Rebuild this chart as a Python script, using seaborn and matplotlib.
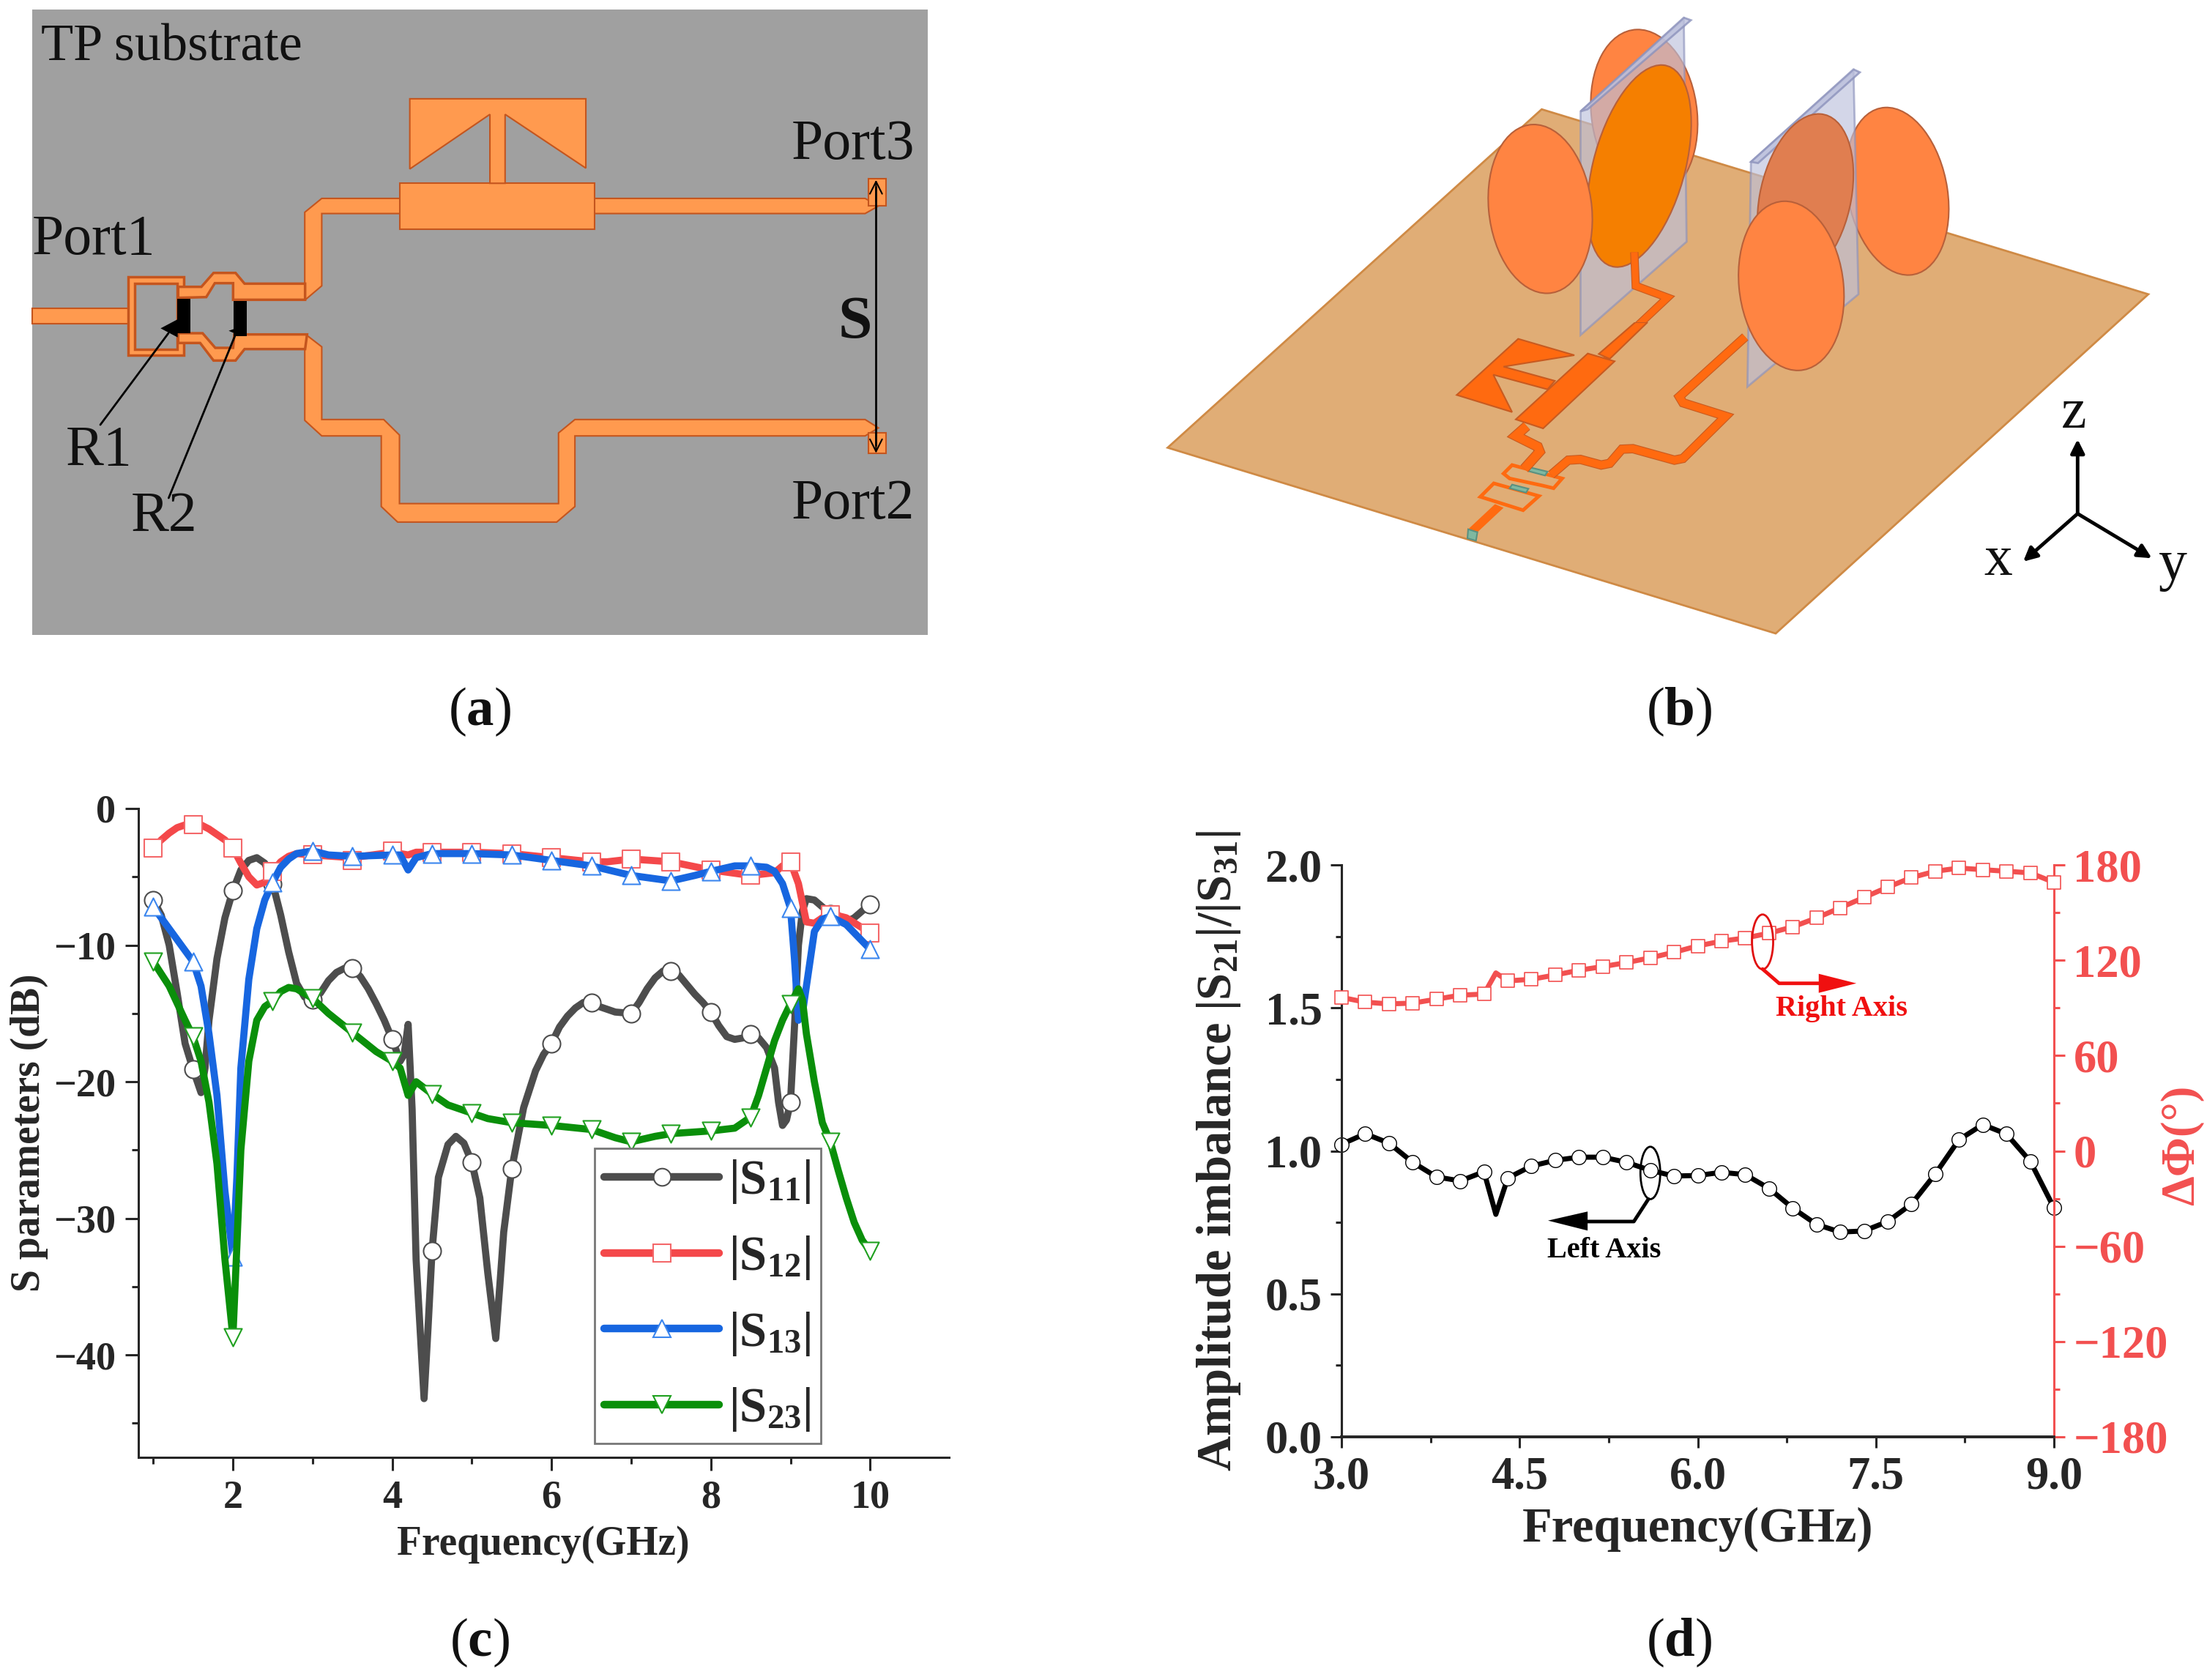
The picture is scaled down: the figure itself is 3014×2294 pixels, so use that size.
import matplotlib
matplotlib.use("Agg")
import matplotlib.pyplot as plt
import seaborn as sns
from matplotlib.lines import Line2D
from matplotlib.patches import Ellipse, Polygon, Rectangle
from matplotlib.ticker import FixedLocator

W, H = 3014, 2294

# panel (c) curves
marker_f = [1, 1.5, 2, 2.5, 3, 3.5, 4, 4.5, 5, 5.5, 6, 6.5, 7, 7.5, 8, 8.5, 9, 9.5, 10]
s11_marks = [-6.7, -19.1, -6.0, -5.5, -14.0, -11.7, -16.9, -32.4, -25.9, -26.4, -17.2, -14.2, -15.0, -11.9, -14.9, -16.5, -21.5, -7.7, -7.0]
s12_marks = [-2.9, -1.2, -2.9, -4.6, -3.4, -3.8, -3.1, -3.2, -3.2, -3.3, -3.6, -3.9, -3.7, -3.9, -4.5, -4.9, -3.9, -7.8, -9.1]
s13_marks = [-7.2, -11.2, -32.8, -5.4, -3.1, -3.5, -3.4, -3.3, -3.3, -3.4, -3.8, -4.2, -4.9, -5.3, -4.6, -4.2, -7.3, -7.9, -10.3]
s23_marks = [-11.2, -16.7, -38.7, -14.1, -13.9, -16.4, -18.5, -20.9, -22.3, -23.0, -23.2, -23.5, -24.4, -23.8, -23.6, -22.6, -14.3, -24.4, -32.4]

s11_f = [1.0, 1.1, 1.2, 1.3, 1.4, 1.5, 1.6, 1.65, 1.7, 1.8, 1.9, 2.0, 2.1, 2.2, 2.3, 2.4, 2.5, 2.6, 2.7, 2.8, 2.9, 3.0,
         3.1, 3.2, 3.3, 3.4, 3.5, 3.6, 3.7, 3.8, 3.9, 4.0, 4.1, 4.15, 4.2, 4.25, 4.3, 4.4, 4.45, 4.5, 4.58, 4.7, 4.8, 4.9,
         5.0, 5.1, 5.2, 5.3, 5.35, 5.4, 5.5, 5.65, 5.8, 5.9, 6.0, 6.1, 6.2, 6.3, 6.4, 6.5, 6.6, 6.8, 7.0, 7.1, 7.2, 7.3,
         7.4, 7.5, 7.6, 7.7, 7.8, 7.9, 8.0, 8.1, 8.2, 8.3, 8.4, 8.5, 8.6, 8.7, 8.8, 8.85, 8.9, 8.95, 9.0, 9.05, 9.1, 9.15,
         9.2, 9.3, 9.4, 9.5, 9.6, 9.7, 9.8, 9.9, 10.0]
s11_db = [-6.7, -7.8, -10, -13.5, -17.2, -19.1, -20.8, -19, -15.5, -11, -8.0, -6.0, -4.5, -3.8, -3.6, -4.0, -5.5, -7.8, -10.5, -12.8, -13.8, -14.0,
          -13.5, -12.6, -12, -11.7, -11.7, -12.3, -13.2, -14.3, -15.5, -16.9, -18.5, -18, -15.8, -22, -33, -43.2, -38, -32.4, -27, -24.6, -24, -24.5,
          -25.9, -28.5, -34, -38.8, -35, -31, -26.4, -21.9, -19.2, -18, -17.2, -16, -15.2, -14.6, -14.2, -14.2, -14.5, -14.9, -15.0, -14.2, -13.2, -12.4,
          -11.9, -11.9, -12.2, -12.9, -13.6, -14.2, -14.9, -15.9, -16.7, -16.9, -16.8, -16.5, -16.8, -17.5, -19, -21.5, -23.2, -22.8, -21.5, -16, -10, -7.5,
          -6.6, -6.7, -7.2, -7.7, -8.2, -8.3, -8.0, -7.5, -7.0]

s12_f = [1.0, 1.1, 1.2, 1.3, 1.4, 1.5, 1.6, 1.7, 1.8, 1.9, 2.0, 2.1, 2.2, 2.3, 2.4, 2.5, 2.6, 2.7, 2.8, 3.0, 3.5, 4.0, 4.2, 4.3,
         4.5, 5.0, 5.5, 6.0, 6.5, 6.7, 7.0, 7.5, 8.0, 8.5, 8.8, 8.9, 9.0, 9.1, 9.2, 9.3, 9.4, 9.5, 9.7, 10.0]
s12_db = [-2.9, -2.3, -1.8, -1.4, -1.2, -1.1, -1.2, -1.5, -1.9, -2.3, -2.9, -4, -5.0, -5.6, -5.4, -4.6, -3.9, -3.5, -3.3, -3.4, -3.6, -3.2, -3.4, -3.2,
          -3.2, -3.2, -3.3, -3.6, -3.9, -3.9, -3.7, -3.9, -4.5, -4.9, -4.7, -4.2, -3.9, -5.5, -8.3, -8.4, -8.0, -7.7, -8, -9.1]

s13_f = [1.0, 1.2, 1.3, 1.4, 1.5, 1.6, 1.7, 1.8, 1.9, 2.0, 2.05, 2.1, 2.2, 2.3, 2.4, 2.5, 2.6, 2.7, 2.8, 3.0, 3.2, 3.5, 4.0, 4.1, 4.2, 4.3,
         4.5, 5.0, 5.5, 6.0, 6.5, 7.0, 7.5, 7.8, 8.0, 8.3, 8.5, 8.7, 8.8, 8.9, 9.0, 9.05, 9.1, 9.15, 9.2, 9.3, 9.4, 9.5, 9.7, 10.0]
s13_db = [-7.2, -8.8, -9.6, -10.4, -11.2, -13, -16.5, -21, -28, -32.8, -27, -19, -12.5, -8.8, -6.7, -5.4, -4.3, -3.7, -3.3, -3.1, -3.4, -3.5, -3.4, -3.4, -4.5, -3.6,
          -3.3, -3.3, -3.4, -3.8, -4.2, -4.9, -5.3, -4.9, -4.6, -4.2, -4.2, -4.3, -4.6, -5.5, -7.3, -11, -15.5, -15, -13, -9, -8.1, -7.9, -8.5, -10.3]

s23_f = [1.0, 1.2, 1.4, 1.5, 1.6, 1.7, 1.8, 1.9, 2.0, 2.05, 2.1, 2.2, 2.3, 2.4, 2.5, 2.6, 2.7, 2.8, 3.0, 3.2, 3.5, 3.8, 4.0, 4.1, 4.15, 4.2, 4.3,
         4.5, 4.7, 5.0, 5.2, 5.5, 6.0, 6.5, 6.8, 7.0, 7.3, 7.5, 8.0, 8.3, 8.5, 8.6, 8.7, 8.8, 8.9, 9.0, 9.1, 9.15, 9.2, 9.3, 9.4, 9.5, 9.6, 9.7, 9.8, 9.9, 10.0]
s23_db = [-11.2, -13, -15.5, -16.7, -18.5, -21.5, -26, -33, -38.7, -32, -25, -18.5, -15.5, -14.5, -14.1, -13.4, -13.1, -13.2, -13.9, -15, -16.4, -17.8, -18.5, -19, -20, -21, -20,
          -20.9, -21.7, -22.3, -22.7, -23.0, -23.2, -23.5, -24.1, -24.4, -24, -23.8, -23.6, -23.4, -22.6, -21, -19, -17, -15.5, -14.3, -13.2, -14, -16.5, -20, -23, -24.4, -26.5, -28.5, -30.3, -31.6, -32.4]

# panel (d), markers every 0.2 GHz
imb_f = [3.0, 3.2, 3.4, 3.6, 3.8, 4.0, 4.2, 4.4, 4.6, 4.8, 5.0, 5.2, 5.4, 5.6, 5.8, 6.0, 6.2, 6.4, 6.6, 6.8, 7.0, 7.2, 7.4, 7.6, 7.8, 8.0, 8.2, 8.4, 8.6, 8.8, 9.0]
imb_amp = [1.023, 1.06, 1.027, 0.96, 0.909, 0.895, 0.927, 0.905, 0.947, 0.967, 0.978, 0.978, 0.96, 0.932, 0.912, 0.914, 0.925, 0.917, 0.869, 0.80, 0.743, 0.716, 0.72, 0.753, 0.814, 0.919, 1.039, 1.092, 1.059, 0.964, 0.801]
imb_phase = [96.6, 93.6, 92.5, 93, 95.5, 98, 98.7, 107, 108, 110.7, 113.7, 116, 118.5, 121.5, 125, 129, 132, 134, 137, 141, 146.6, 153, 159.5, 166, 172, 176, 178, 177, 176, 175, 169]
# spikes at 4.3 GHz that carry no marker
spike_f = 4.3
spike_amp = 0.778
spike_phase = 112

sns.set_theme(style="ticks")
plt.rcParams["font.family"] = ["Liberation Serif", "DejaVu Serif"]
plt.rcParams["mathtext.fontset"] = "custom"
plt.rcParams["mathtext.rm"] = "Liberation Serif"
plt.rcParams["mathtext.it"] = "Liberation Serif:italic"
plt.rcParams["mathtext.bf"] = "Liberation Serif:bold"

fig = plt.figure(figsize=(W / 100, H / 100), dpi=100, facecolor="white")


def box_axes(x0, y0, x1, y1):
    """axes placed by pixel box, y measured from the top of the picture"""
    return fig.add_axes([x0 / W, 1 - y1 / H, (x1 - x0) / W, (y1 - y0) / H])


def sketch_axes(x0, y0, w, h, xmax=1568, ymax=1568):
    # schematic layer with its own coordinates over the box
    ax = box_axes(x0, y0, x0 + w, y0 + h)
    ax.set_xlim(0, xmax)
    ax.set_ylim(ymax, 0)
    ax.axis("off")
    ax.patch.set_alpha(0)
    return ax


def poly(ax, pts, fc, ec="none", lw=1.5, **kw):
    ax.add_patch(Polygon(pts, closed=True, facecolor=fc, edgecolor=ec, linewidth=lw, **kw))


def rect(ax, x0, y0, x1, y1, fc, ec="none", lw=1.5):
    ax.add_patch(Rectangle((x0, y0), x1 - x0, y1 - y0, facecolor=fc, edgecolor=ec, linewidth=lw))


def arrow(ax, start, end, color="black", lw=2.0, style="-|>", scale=26):
    ax.annotate("", xy=end, xytext=start,
                arrowprops=dict(arrowstyle=style, color=color, lw=lw, mutation_scale=scale,
                                shrinkA=0, shrinkB=0))


def trace(ax, pts, lw=8.0, color="#FF6A10", edge="#C85A20"):
    xs = [p[0] for p in pts]
    ys = [p[1] for p in pts]
    ax.plot(xs, ys, color=edge, lw=lw + 1.6, solid_joinstyle="miter", solid_capstyle="butt")
    ax.plot(xs, ys, color=color, lw=lw, solid_joinstyle="miter", solid_capstyle="butt")


# ---------- panel (a)
GREY = "#A0A0A0"
ORANGE = "#FF9A4F"
EDGE = "#C4551E"
ax_a = sketch_axes(0, 0, 1300, 900)
rect(ax_a, 53, 23, 1528, 1510, GREY)
rect(ax_a, 53, 733, 215, 770, ORANGE, EDGE)
poly(ax_a, [(500, 677), (502, 677), (502, 505), (530, 472), (1425, 472), (1447, 490), (1425, 508), (530, 508), (530, 680), (503, 713), (480, 713), (480, 677)], ORANGE, EDGE)
rect(ax_a, 658, 435, 980, 545, ORANGE, EDGE)
poly(ax_a, [(675, 235), (965, 235), (965, 400), (832, 272), (832, 436), (807, 436), (807, 272), (675, 402)], ORANGE, EDGE)
poly(ax_a, [(480, 795), (503, 795), (530, 825), (530, 998), (632, 998), (658, 1035), (658, 1198), (920, 1198), (920, 1030), (947, 998), (1425, 998), (1447, 1018), (1425, 1037), (947, 1037), (947, 1205), (917, 1242), (655, 1242), (628, 1205), (628, 1037), (530, 1037), (502, 1000), (502, 830), (480, 830)], ORANGE, EDGE)
rect(ax_a, 1430, 425, 1460, 490, ORANGE, EDGE)
rect(ax_a, 1430, 1030, 1460, 1078, ORANGE, EDGE)
ax_a.plot([1443, 1443], [445, 1060], color="black", lw=2)
arrow(ax_a, (1443, 480), (1443, 428), lw=1.5, style="->", scale=30)
arrow(ax_a, (1443, 1030), (1443, 1078), lw=1.5, style="->", scale=30)
ax_a.text(68, 113, "TP substrate", fontsize=52, color="#111111", ha="left", va="center")
for x, y, label in [(53, 572, "Port1"), (1303, 346, "Port3"), (1303, 1201, "Port2"), (108, 1073, "R1"), (215, 1231, "R2")]:
    ax_a.text(x, y, label, fontsize=56, color="#111111", ha="left", va="center")
ax_a.text(1408, 770, "S", fontsize=60, fontweight="bold", color="#111111", ha="center", va="center")

# divider section near the resistors, finer coordinates
ax_a2 = sketch_axes(150, 340, 300, 200, xmax=900, ymax=600)
rect(ax_a2, 75, 113, 302, 435, ORANGE, EDGE, lw=2.5)
rect(ax_a2, 103, 140, 275, 412, GREY, EDGE, lw=2.5)
poly(ax_a2, [(280, 155), (375, 155), (425, 98), (515, 98), (552, 142), (800, 142), (800, 208), (505, 208), (505, 140), (430, 140), (395, 197), (280, 200)], ORANGE, EDGE, lw=2.5)
poly(ax_a2, [(280, 345), (380, 345), (432, 405), (505, 405), (510, 350), (808, 350), (800, 410), (552, 410), (515, 457), (425, 457), (370, 385), (280, 385)], ORANGE, EDGE, lw=2.5)
rect(ax_a2, 275, 205, 330, 345, "black")
rect(ax_a2, 507, 212, 560, 358, "black")
poly(ax_a2, [(208, 325), (278, 288), (278, 362)], "black")
poly(ax_a2, [(487, 335), (525, 322), (525, 352)], "black")
ax_a2.plot([-39, 240], [720, 345], color="black", lw=2, clip_on=False)
ax_a2.plot([241, 515], [1020, 350], color="black", lw=2, clip_on=False)

# ---------- panel (b)
ELL = "#FF8442"
ELL_EDGE = "#B8603A"
TRACE = "#FF6A10"
TRACE_EDGE = "#C85A20"
BOARD = "#E0AD76"
PLATE = "#BCC0DC"
PLATE_EDGE = "#8C92BC"
ax_b = sketch_axes(1500, 0, 1514, 900)
poly(ax_b, [(627, 260), (1485, 700), (958, 1507), (98, 1065)], BOARD, "#CF8A45", lw=2)
ax_b.add_patch(Ellipse((772, 270), 150, 400, angle=-3, facecolor=ELL, edgecolor=ELL_EDGE, linewidth=1.5))
ax_b.add_patch(Ellipse((1130, 455), 142, 400, angle=-5, facecolor=ELL, edgecolor=ELL_EDGE, linewidth=1.5))
poly(ax_b, [(682, 265), (828, 45), (832, 575), (682, 797)], PLATE, PLATE_EDGE, lw=2, alpha=0.65)
poly(ax_b, [(682, 265), (692, 260), (838, 48), (828, 42)], PLATE, PLATE_EDGE, lw=2, alpha=0.8)
poly(ax_b, [(923, 385), (1068, 168), (1075, 700), (918, 920)], PLATE, PLATE_EDGE, lw=2, alpha=0.65)
poly(ax_b, [(923, 385), (933, 388), (1077, 172), (1068, 165)], PLATE, PLATE_EDGE, lw=2, alpha=0.8)
ax_b.add_patch(Ellipse((765, 395), 132, 485, angle=8, facecolor="#F57F00", edgecolor=ELL_EDGE, linewidth=1.5))
ax_b.add_patch(Ellipse((625, 497), 146, 402, angle=-3, facecolor=ELL, edgecolor=ELL_EDGE, linewidth=1.5))
ax_b.add_patch(Ellipse((1000, 470), 130, 400, angle=6, facecolor="#E07E50", edgecolor=ELL_EDGE, linewidth=1.5))
ax_b.add_patch(Ellipse((980, 680), 148, 403, angle=-3, facecolor=ELL, edgecolor=ELL_EDGE, linewidth=1.5))
trace(ax_b, [(715, 850), (805, 708), (760, 680), (758, 600)], lw=6.5)
arrow(ax_b, (1385, 1222), (1385, 1045), lw=3.5, scale=28)
arrow(ax_b, (1385, 1222), (1308, 1336), lw=3.5, scale=28)
arrow(ax_b, (1385, 1222), (1490, 1328), lw=3.5, scale=28)
for x, y, label in [(1380, 985, "z"), (1273, 1335, "x"), (1520, 1345, "y")]:
    ax_b.text(x, y, label, fontsize=56, color="#111111", ha="center", va="center")

# feed network on the board, finer coordinates
ax_b2 = sketch_axes(1950, 440, 500, 340, xmax=1500, ymax=1020)
poly(ax_b2, [(370, 68), (600, 135), (310, 182), (520, 240), (490, 275), (268, 215), (345, 368), (118, 298)], TRACE, TRACE_EDGE)
poly(ax_b2, [(700, 130), (850, 0), (900, 0), (745, 150)], TRACE, TRACE_EDGE)
poly(ax_b2, [(360, 398), (655, 128), (765, 160), (472, 435)], TRACE, TRACE_EDGE)
trace(ax_b2, [(405, 425), (360, 465), (450, 510), (458, 530), (395, 600)], lw=8.5)
trace(ax_b2, [(505, 625), (575, 565), (625, 562), (710, 585), (745, 578), (795, 520), (840, 518), (1010, 565), (1045, 558), (1220, 385), (1045, 330), (1030, 305), (1300, 60)], lw=7.5)
poly(ax_b2, [(345, 585), (550, 640), (515, 680), (465, 668), (335, 640), (310, 620)], BOARD, TRACE, lw=3.5)
poly(ax_b2, [(270, 660), (455, 712), (390, 770), (215, 715)], BOARD, TRACE, lw=3.5)
poly(ax_b2, [(420, 595), (490, 612), (480, 628), (412, 610)], "#7FB8A0", "#5A9080")
poly(ax_b2, [(345, 665), (412, 682), (402, 698), (335, 680)], "#7FB8A0", "#5A9080")
poly(ax_b2, [(165, 848), (275, 745), (310, 760), (203, 860)], TRACE)
poly(ax_b2, [(165, 848), (203, 860), (197, 895), (162, 885)], "#7FB8A0", "#5A9080")

# ---------- panel (c)
ax_c = box_axes(188.6, 1104, 1296, 1990)
series_c = [
    ("|S$_{\\mathbf{11}}$|", s11_f, s11_db, s11_marks, "#4D4D4D", "#4D4D4D", "o"),
    ("|S$_{\\mathbf{12}}$|", s12_f, s12_db, s12_marks, "#F4484A", "#F4686A", "s"),
    ("|S$_{\\mathbf{13}}$|", s13_f, s13_db, s13_marks, "#1766E0", "#3B86EE", "^"),
    ("|S$_{\\mathbf{23}}$|", s23_f, s23_db, s23_marks, "#0A8F0A", "#1FA01F", "v"),
]
handles = []
for i, (label, f, db, marks, color, edge, mk) in enumerate(series_c):
    sns.lineplot(x=f, y=db, ax=ax_c, color=color, linewidth=7, errorbar=None, zorder=3 + i * 2, solid_capstyle="round")
    sns.scatterplot(x=marker_f, y=marks, ax=ax_c, marker=mk, s=300, color="white", edgecolor=edge, linewidth=1.5, zorder=4 + i * 2, clip_on=False)
    handles.append(Line2D([], [], color=color, lw=7.5, marker=mk, markersize=17, markerfacecolor="white", markeredgecolor=edge, markeredgewidth=1.5, solid_capstyle="round", label=label))
ax_c.set_xlim(0.81, 10.99)
ax_c.set_ylim(-47.5, 0)
ax_c.xaxis.set_major_locator(FixedLocator([2, 4, 6, 8, 10]))
ax_c.xaxis.set_minor_locator(FixedLocator([1, 3, 5, 7, 9, 11]))
ax_c.yaxis.set_major_locator(FixedLocator([0, -10, -20, -30, -40]))
ax_c.yaxis.set_minor_locator(FixedLocator([-5, -15, -25, -35, -45]))
ax_c.set_xticklabels(["2", "4", "6", "8", "10"], fontweight="bold", fontsize=39)
ax_c.set_yticklabels(["0", "\u221210", "\u221220", "\u221230", "\u221240"], fontweight="bold", fontsize=39)
ax_c.tick_params(which="major", direction="out", length=13, width=2.2, pad=9)
ax_c.tick_params(which="minor", direction="out", length=6.5, width=2.2)
sns.despine(ax=ax_c)
for side in ["left", "bottom"]:
    ax_c.spines[side].set_linewidth(2.2)
ax_c.set_xlabel("Frequency(GHz)", fontsize=40, fontweight="bold", labelpad=9)
ax_c.set_ylabel("S parameters (dB)", fontsize=40, fontweight="bold", labelpad=5)
leg = ax_c.legend(handles=handles, loc="lower left", bbox_to_anchor=(0.563, 0.022), frameon=True, fancybox=False,
                  edgecolor="#777777", framealpha=1, prop={"family": "Liberation Serif", "weight": "bold", "size": 48},
                  handlelength=2.35, handletextpad=0.2, labelspacing=0.58, borderpad=0.2, borderaxespad=0)
leg.set_zorder(20)
leg.get_frame().set_linewidth(2)

# ---------- panel (d)
RED = "#F25050"
ax_d = box_axes(1832, 1181, 2805, 1962)
sns.lineplot(x=sorted(imb_f + [spike_f]), y=imb_amp[:7] + [spike_amp] + imb_amp[7:], ax=ax_d, color="black", linewidth=5, errorbar=None)
sns.scatterplot(x=imb_f, y=imb_amp, ax=ax_d, marker="o", s=200, color="white", edgecolor="black", linewidth=1.0, zorder=5, clip_on=False)
ax_d.set_xlim(3, 9)
ax_d.set_ylim(0, 2)
ax_d.xaxis.set_major_locator(FixedLocator([3, 4.5, 6, 7.5, 9]))
ax_d.xaxis.set_minor_locator(FixedLocator([3.75, 5.25, 6.75, 8.25]))
ax_d.yaxis.set_major_locator(FixedLocator([0, 0.5, 1, 1.5, 2]))
ax_d.yaxis.set_minor_locator(FixedLocator([0.25, 0.75, 1.25, 1.75]))
ax_d.set_xticklabels(["3.0", "4.5", "6.0", "7.5", "9.0"], fontweight="bold", fontsize=45)
ax_d.set_yticklabels(["0.0", "0.5", "1.0", "1.5", "2.0"], fontweight="bold", fontsize=45)
ax_d.tick_params(which="major", direction="out", length=11, width=2.2, pad=8)
ax_d.tick_params(which="minor", direction="out", length=6, width=2.2)
ax_d.set_xlabel("Frequency(GHz)", fontsize=48, fontweight="bold", labelpad=8)
ax_d.set_ylabel("Amplitude imbalance |S$_{\\mathbf{21}}$|/|S$_{\\mathbf{31}}$|", fontsize=48, fontweight="bold", labelpad=22)

ax_p = ax_d.twinx()
sns.lineplot(x=sorted(imb_f + [spike_f]), y=imb_phase[:7] + [spike_phase] + imb_phase[7:], ax=ax_p, color=RED, linewidth=5, errorbar=None)
sns.scatterplot(x=imb_f, y=imb_phase, ax=ax_p, marker="s", s=150, color="white", edgecolor=RED, linewidth=1.2, zorder=5, clip_on=False)
ax_p.set_ylim(-180, 180)
ax_p.yaxis.set_major_locator(FixedLocator([-180, -120, -60, 0, 60, 120, 180]))
ax_p.yaxis.set_minor_locator(FixedLocator([-150, -90, -30, 30, 90, 150]))
ax_p.set_yticklabels(["\u2212180", "\u2212120", "\u221260", "0", "60", "120", "180"], fontweight="bold", fontsize=45, color=RED)
ax_p.tick_params(axis="y", which="major", direction="out", length=11, width=2.2, color=RED, pad=8)
ax_p.tick_params(axis="y", which="minor", direction="out", length=6, width=2.2, color=RED)
ax_p.set_ylabel("\u0394\u03a6(\u00b0)", fontsize=47, fontweight="bold", color=RED, labelpad=-8, y=0.51)
for a in (ax_d, ax_p):
    a.spines["top"].set_visible(False)
    a.spines["left"].set_linewidth(2.2)
    a.spines["bottom"].set_linewidth(2.6)
    a.spines["right"].set_linewidth(2.2)
ax_d.spines["right"].set_visible(False)
ax_p.spines["right"].set_color(RED)

ax_n = sketch_axes(1600, 1130, 1414, 1020)
ax_n.add_patch(Ellipse((895, 240), 32, 115, facecolor="none", edgecolor="#E01010", linewidth=2))
ax_n.plot([895, 920, 985], [297, 327, 327], color="#F01010", lw=3.5)
poly(ax_n, [(980, 307), (1037, 327), (980, 347)], "#F01010")
ax_n.text(1015, 380, "Right Axis", fontsize=29, fontweight="bold", color="#F01010", ha="center", va="center")
ax_n.add_patch(Ellipse((725, 725), 30, 110, facecolor="none", edgecolor="black", linewidth=2))
ax_n.plot([722, 700, 625], [780, 827, 827], color="black", lw=3.5)
poly(ax_n, [(630, 806), (570, 825), (630, 846)], "black")
ax_n.text(655, 888, "Left Axis", fontsize=29, fontweight="bold", color="black", ha="center", va="center")

# panel letters, regular brackets round a bold letter
ax_t = sketch_axes(0, 0, W, H, xmax=W, ymax=H)
for x, y, letter in [(655, 972, "a"), (2293, 972, "b"), (655, 2243, "c"), (2293, 2243, "d")]:
    ax_t.text(x, y, "($\\mathbf{%s}$)" % letter, fontsize=54, color="#111111", ha="center", va="center")

fig.savefig("out.png", dpi=100)
